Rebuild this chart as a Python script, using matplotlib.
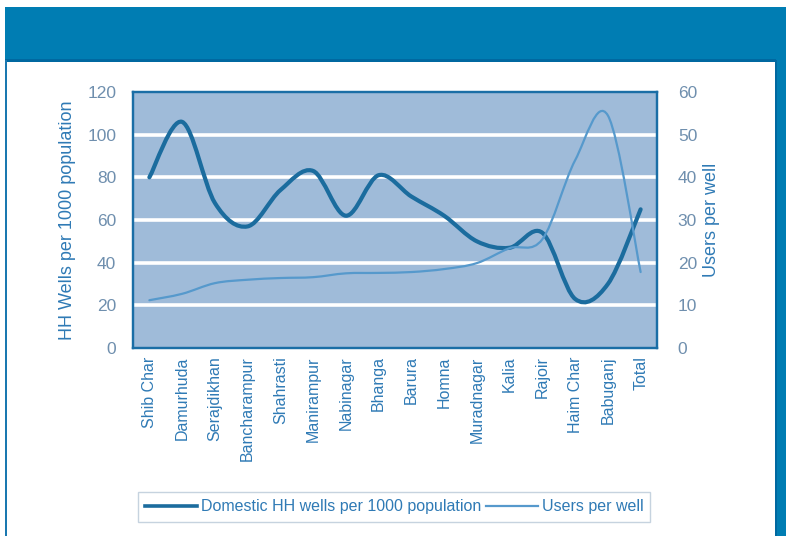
import numpy as np
import matplotlib
matplotlib.use("Agg")
import matplotlib.pyplot as plt
from matplotlib.path import Path
from matplotlib.patches import PathPatch, Rectangle
from matplotlib.lines import Line2D

plt.rcParams['font.family'] = ['Liberation Sans', 'DejaVu Sans']

# Data
districts = ["Shib Char", "Damurhuda", "Serajdikhan", "Bancharampur", "Shahrasti",
             "Manirampur", "Nabinagar", "Bhanga", "Barura", "Homna", "Muradnagar",
             "Kalia", "Rajoir", "Haim Char", "Babuganj", "Total"]
hh_wells_per_1000 = [80, 106, 68, 57, 74, 83, 62, 81, 71, 62, 50, 47, 54, 23, 30, 65]
users_per_well = [11.2, 12.7, 15.2, 16.0, 16.4, 16.6, 17.5, 17.6, 17.8, 18.5, 19.9,
                  23.4, 25.5, 44, 54.5, 17.8]

left_ticks = [0, 20, 40, 60, 80, 100, 120]
right_ticks = [0, 10, 20, 30, 40, 50, 60]

W, H = 786, 536
BAND = "#007db3"
BAND_DARK = "#0068a0"
PLOT_BG = "#9fbbd9"
DARK_LINE = "#1b6c9e"
LIGHT_LINE = "#5699cc"
TICK_COL = "#6f8fae"
LABEL_COL = "#2f7ab5"


def smooth_path(xs, ys):
    """Bezier path through the points, smoothed like a spreadsheet line chart."""
    pts = np.column_stack([xs, ys]).astype(float)
    n = len(pts)
    verts = [pts[0]]
    codes = [Path.MOVETO]
    for i in range(n - 1):
        p0 = pts[i - 1] if i > 0 else pts[i]
        p1 = pts[i]
        p2 = pts[i + 1]
        p3 = pts[i + 2] if i + 2 < n else pts[i + 1]
        c1 = p1 + (p2 - p0) / 6.0
        c2 = p2 - (p3 - p1) / 6.0
        verts += [c1, c2, p2]
        codes += [Path.CURVE4] * 3
    return Path(verts, codes)


fig = plt.figure(figsize=(W / 100, H / 100), dpi=100)
fig.patch.set_facecolor("white")


def px_rect(x0, y0, x1, y1, color, z=0):
    fig.patches.append(Rectangle((x0 / W, 1 - y1 / H), (x1 - x0) / W, (y1 - y0) / H,
                                 transform=fig.transFigure, facecolor=color,
                                 edgecolor="none", zorder=z))


# Frame: header band, right strip, left rule
px_rect(5, 7, W, 60, BAND)
px_rect(5, 58.5, 777, 61.5, BAND_DARK)
px_rect(776, 7, W, H, BAND)
px_rect(775, 60, 777, H, BAND_DARK)
px_rect(5, 60, 7.5, H, "#1a78b0")

ax = fig.add_axes([133 / W, 1 - 348 / H, (657 - 133) / W, (348 - 92) / H])
ax.set_facecolor(PLOT_BG)
ax2 = ax.twinx()

x = np.arange(len(districts))
ax.set_xlim(-0.5, len(districts) - 0.5)
ax.set_ylim(0, 120)
ax2.set_ylim(0, 60)

for v in left_ticks[1:-1]:
    ax.axhline(v, color="white", lw=2.6, zorder=1)

ax.add_patch(PathPatch(smooth_path(x, hh_wells_per_1000), fill=False,
                       edgecolor=DARK_LINE, lw=3.0, zorder=4,
                       capstyle="round", joinstyle="round"))
ax2.add_patch(PathPatch(smooth_path(x, users_per_well), fill=False,
                        edgecolor=LIGHT_LINE, lw=1.6, zorder=3,
                        capstyle="round", joinstyle="round"))

for a in (ax, ax2):
    for s in a.spines.values():
        s.set_color("#1a6ea6")
        s.set_linewidth(1.6)

ax.set_yticks(left_ticks)
ax.set_yticklabels([str(t) for t in left_ticks])
ax2.set_yticks(right_ticks)
ax2.set_yticklabels([str(t) for t in right_ticks])
ax.tick_params(axis="y", length=0, pad=12, labelsize=12.5, labelcolor=TICK_COL)
ax2.tick_params(axis="y", length=0, pad=15, labelsize=12.5, labelcolor=TICK_COL)

ax.set_xticks(x)
ax.set_xticklabels(districts, rotation=90, fontsize=11.5, color=LABEL_COL)
ax.tick_params(axis="x", length=0, pad=6)

ax.set_ylabel("HH Wells per 1000 population", fontsize=13, color=LABEL_COL, labelpad=8)
ax2.set_ylabel("Users per well", fontsize=13, color=LABEL_COL, labelpad=4)

handles = [Line2D([], [], color=DARK_LINE, lw=2.6),
           Line2D([], [], color=LIGHT_LINE, lw=1.6)]
leg = fig.legend(handles, ["Domestic HH wells per 1000 population", "Users per well"],
                 loc="center", bbox_to_anchor=(394 / W, 1 - 507 / H), ncol=2,
                 fontsize=11.5, frameon=True, fancybox=False, shadow=False,
                 handlelength=3.3, handletextpad=0.2, columnspacing=0.3,
                 borderpad=0.45, labelcolor=LABEL_COL)
leg.get_frame().set_edgecolor("#b8c8d8")
leg.get_frame().set_linewidth(1.0)

fig.savefig("out.png", dpi=100)
